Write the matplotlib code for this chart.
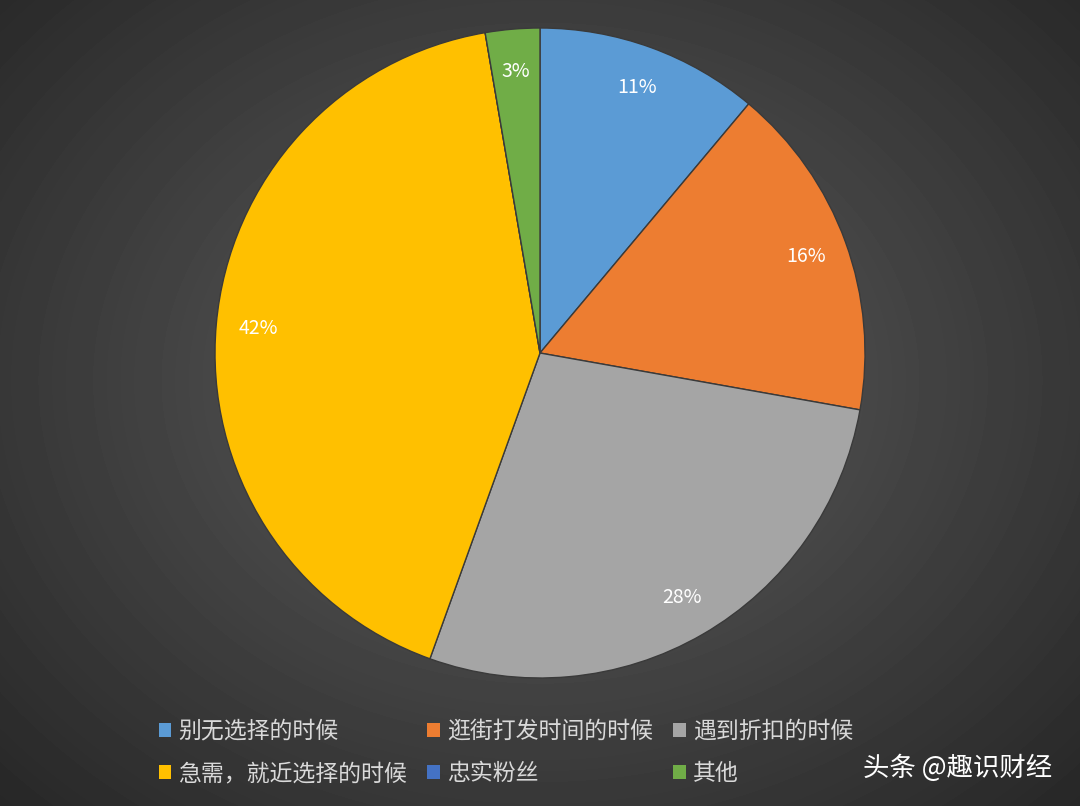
import numpy as np
import matplotlib
matplotlib.use("Agg")
import matplotlib.pyplot as plt
from matplotlib.patches import Patch

plt.rcParams['font.family'] = ['Noto Sans CJK SC', 'DejaVu Sans']

labels = ['别无选择的时候', '逛街打发时间的时候', '遇到折扣的时候', '急需，就近选择的时候', '忠实粉丝', '其他']
values = [11.1, 16.7, 27.7, 41.8, 0.0, 2.7]
pct_text = ['11%', '16%', '28%', '42%', '', '3%']
colors = ['#5b9bd5', '#ed7d31', '#a5a5a5', '#ffc000', '#4472c4', '#70ad47']

fig = plt.figure(figsize=(10.8, 8.06), dpi=100)
bg = fig.add_axes([0, 0, 1, 1])
yy, xx = np.mgrid[0:806, 0:1080]
d = np.sqrt(((xx - 540) / 700.0) ** 2 + ((yy - 380) / 560.0) ** 2)
img = np.clip(0.37 - 0.2 * d, 0.15, 0.4)
bg.imshow(img, cmap='gray', vmin=0, vmax=1, aspect='auto', extent=[0, 1, 0, 1])
bg.axis('off')

ax = fig.add_axes([215/1080, (806-678)/806, 650/1080, 650/806])
wedges, texts = ax.pie(values, colors=colors, startangle=90, counterclock=False,
                       labels=pct_text, labeldistance=0.87,
                       wedgeprops=dict(linewidth=1.0, edgecolor='#3a3a3a'),
                       textprops=dict(color='white', fontsize=14, fontweight='medium'))
for t in texts:
    t.set_ha('center'); t.set_va('center')
ax.set_xlim(-1, 1); ax.set_ylim(-1, 1)
ax.set_aspect('equal')
ax.axis('off')

order = [0, 3, 1, 4, 2, 5]
handles = [Patch(facecolor=colors[i], edgecolor='none') for i in order]
fig.legend(handles, [labels[i] for i in order], loc='lower left',
           bbox_to_anchor=(138/1080, 0/806),
           ncol=3, frameon=False, fontsize=16.5, labelcolor='#d9d9d9',
           handlelength=0.55, handleheight=0.55, handletextpad=0.3,
           columnspacing=0.9, labelspacing=0.85)

fig.text(1052/1080, 38/806, '头条 @趣识财经', color='white', fontsize=19,
         ha='right', va='center')

fig.savefig('out.png', dpi=100)
